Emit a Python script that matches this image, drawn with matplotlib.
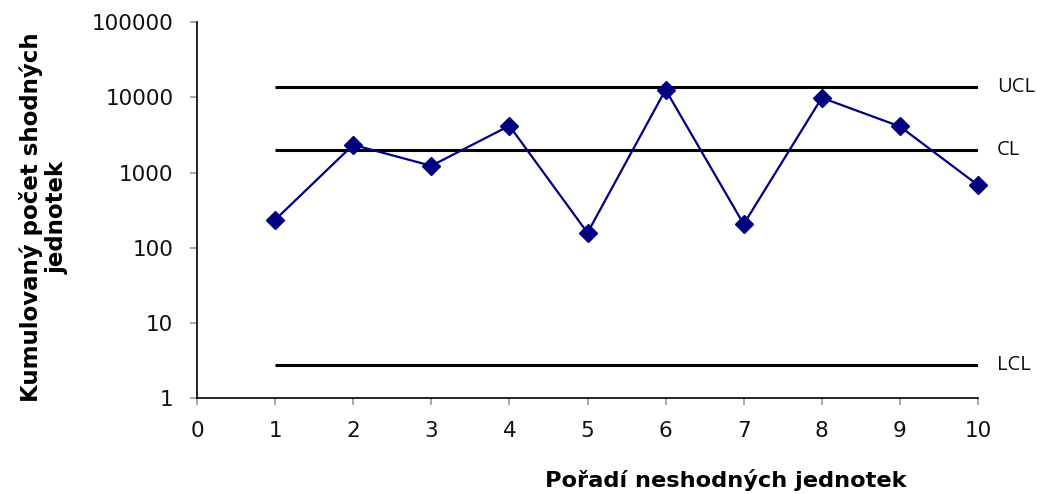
import matplotlib
matplotlib.use("Agg")
import matplotlib.pyplot as plt
from matplotlib.ticker import FixedLocator, NullLocator

# Data
order = [1, 2, 3, 4, 5, 6, 7, 8, 9, 10]
cumulative = [235, 2335, 1228, 4180, 158, 12590, 206, 9840, 4090, 680]
ucl = 13500
cl = 2020
lcl = 2.75
limit_labels = ["UCL", "CL", "LCL"]
y_ticks = [1, 10, 100, 1000, 10000, 100000]
x_ticks = [0, 1, 2, 3, 4, 5, 6, 7, 8, 9, 10]

FONT = ["DejaVu Sans"]

fig = plt.figure(figsize=(10.37, 4.94), dpi=100)
ax = fig.add_axes([197/1037, 1 - 398.3/494, (978-197)/1037, (398.3-22)/494])

ax.set_yscale("log")
ax.set_ylim(1, 100000)
ax.set_xlim(0, 10)

for val in (ucl, cl, lcl):
    ax.plot([order[0], order[-1]], [val, val], color="black", lw=2.2, solid_capstyle="butt", zorder=2)

ax.plot(order, cumulative, color="#000080", lw=1.6, marker="D", markersize=9.5,
        markerfacecolor="#000080", markeredgecolor="#000080", zorder=3, clip_on=False)

for lab, val in zip(limit_labels, (ucl, cl, lcl)):
    ax.text(10.24, val, lab, fontsize=14.5, family=["Open Sans", "DejaVu Sans"],
            va="center", ha="left", color="#111111", clip_on=False)

ax.yaxis.set_major_locator(FixedLocator(y_ticks))
ax.yaxis.set_minor_locator(NullLocator())
ax.set_yticklabels([str(v) for v in y_ticks])
ax.xaxis.set_major_locator(FixedLocator(x_ticks))
ax.set_xticklabels([str(v) for v in x_ticks])

for s in ("top", "right"):
    ax.spines[s].set_visible(False)
for s in ("left", "bottom"):
    ax.spines[s].set_color("black")
    ax.spines[s].set_linewidth(1.2)

ax.tick_params(axis="both", which="major", direction="out", length=5, width=1.2,
               color="#999999", labelsize=15.5, labelcolor="#111111")
ax.tick_params(axis="y", pad=12)
ax.tick_params(axis="x", pad=11)
for t in ax.get_xticklabels() + ax.get_yticklabels():
    t.set_family(FONT)

fig.text(726/1037, 1 - 487/494, "Pořadí neshodných jednotek", fontsize=16.2, fontweight="bold",
         family=FONT, ha="center", va="baseline")
fig.text(44/1037, 1 - 217/494, "Kumulovaný počet shodných\njednotek", fontsize=16.5, fontweight="bold",
         family=FONT, ha="center", va="center", rotation=90, linespacing=1.15)

fig.savefig("out.png", dpi=100)
